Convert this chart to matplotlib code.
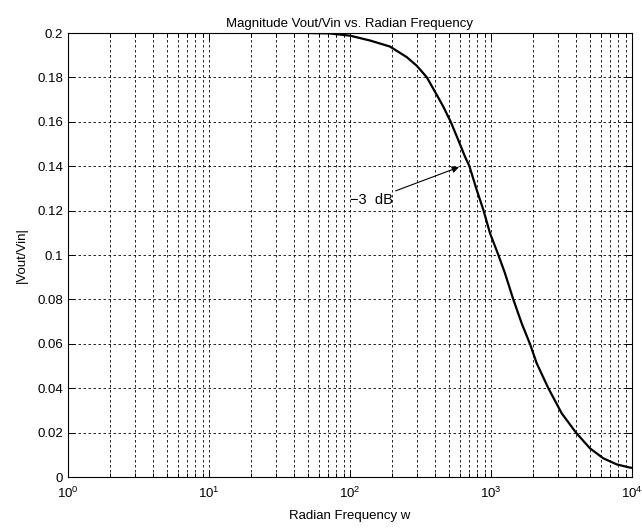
import matplotlib
matplotlib.use("Agg")
import matplotlib.pyplot as plt

# values (radian frequency w, |Vout/Vin|)
freq_w = [50, 72, 100, 139, 192, 253, 297, 350, 401, 459, 518, 586, 654, 702,
          792, 883, 984, 1128, 1256, 1439, 1651, 1891, 2110, 2551, 3172, 4005,
          5036, 6264, 7782, 9413, 10000]
magnitude = [0.2, 0.1998, 0.1988, 0.1966, 0.1939, 0.1891, 0.1853, 0.1801, 0.1735,
             0.1668, 0.1600, 0.1518, 0.1443, 0.1401, 0.1293, 0.1203, 0.1098, 0.1000,
             0.0918, 0.0800, 0.0692, 0.0599, 0.0512, 0.0400, 0.0287, 0.0200,
             0.0129, 0.0084, 0.0057, 0.0044, 0.0041]

y_ticks = [0, 0.02, 0.04, 0.06, 0.08, 0.1, 0.12, 0.14, 0.16, 0.18, 0.2]
y_tick_labels = ["0", "0.02", "0.04", "0.06", "0.08", "0.1", "0.12", "0.14", "0.16", "0.18", "0.2"]
x_ticks = [1, 10, 100, 1000, 10000]
x_tick_labels = [r"$10^{0}$", r"$10^{1}$", r"$10^{2}$", r"$10^{3}$", r"$10^{4}$"]

# -3 dB annotation: arrow tip and text anchor (data coords)
note_text = "\u22123  dB"
note_xy = (593, 0.1396)
note_text_xy = (100, 0.1248)

plt.rcParams["font.family"] = ["Liberation Sans", "DejaVu Sans"]
plt.rcParams["mathtext.fontset"] = "custom"
plt.rcParams["mathtext.rm"] = "Liberation Sans"
plt.rcParams["mathtext.it"] = "Liberation Sans"

fig = plt.figure(figsize=(6.42, 5.29), dpi=100)
ax = fig.add_axes([68 / 642, 1 - 477 / 529, 564 / 642, 444 / 529])

ax.plot(freq_w, magnitude, color="black", linewidth=1.6)
ax.set_xscale("log")
ax.set_xlim(1, 10000)
ax.set_ylim(0, 0.2)

ax.set_yticks(y_ticks)
ax.set_yticklabels(y_tick_labels)
ax.set_xticks(x_ticks)
ax.set_xticklabels(x_tick_labels)

grid_style = dict(color="black", linestyle=(0, (3, 3)), linewidth=0.6)
ax.grid(True, which="major", axis="both", **grid_style)
ax.grid(True, which="minor", axis="x", **grid_style)

ax.tick_params(which="both", direction="in", top=True, right=True,
               labelsize=9.5, colors="black", width=0.7)
ax.tick_params(which="major", length=5)
ax.tick_params(which="minor", length=3)
ax.tick_params(axis="x", pad=6)
for spine in ax.spines.values():
    spine.set_linewidth(0.8)

ax.annotate(note_text, xy=note_xy, xytext=note_text_xy,
            fontsize=10.5, va="center", ha="left",
            arrowprops=dict(arrowstyle="-|>", color="black", linewidth=0.8,
                            mutation_scale=10, shrinkA=0, shrinkB=0))

ax.set_title("Magnitude Vout/Vin vs. Radian Frequency", fontsize=9.5, pad=4)
ax.set_xlabel("Radian Frequency w", fontsize=9.5, labelpad=7)
ax.set_ylabel("|Vout/Vin|", fontsize=9.5, labelpad=7)

fig.savefig("out.png", dpi=100, facecolor="white")
